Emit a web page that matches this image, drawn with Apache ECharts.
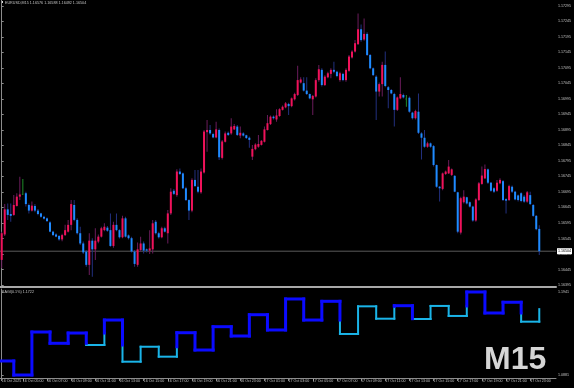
<!DOCTYPE html>
<html><head><meta charset="utf-8">
<script src="https://cdn.jsdelivr.net/npm/echarts@6/dist/echarts.min.js"></script>
<style>html,body{margin:0;padding:0;background:#000;}#c{width:574px;height:388px;}</style>
</head><body><div id="c"></div>
<script>
const symbolName = 'EURUSD,M15';
const timeframeLabel = 'M15';
// 15-minute candles, 16 Oct 03:15 .. 17 Oct 23:30 (index = bar number)
const opens = [1.16476,1.16558,1.16639,1.16624,1.16621,1.16650,1.16680,1.16689,1.16691,1.16653,
1.16635,1.16650,1.16635,1.16626,1.16615,1.16610,1.16597,1.16567,1.16558,1.16553,
1.16542,1.16556,1.16567,1.16589,1.16653,1.16605,1.16562,1.16529,1.16503,1.16460,
1.16538,1.16510,1.16535,1.16551,1.16572,1.16580,1.16572,1.16521,1.16589,1.16572,
1.16549,1.16610,1.16555,1.16546,1.16503,1.16460,1.16508,1.16529,1.16510,1.16506,
1.16510,1.16599,1.16562,1.16549,1.16578,1.16562,1.16626,1.16699,1.16685,1.16761,
1.16755,1.16707,1.16669,1.16635,1.16734,1.16712,1.16694,1.16758,1.16888,1.16895,
1.16882,1.16871,1.16895,1.16805,1.16857,1.16886,1.16884,1.16897,1.16906,1.16877,
1.16884,1.16878,1.16870,1.16809,1.16833,1.16841,1.16847,1.16857,1.16895,1.16914,
1.16938,1.16929,1.16940,1.16960,1.16968,1.16979,1.16972,1.16994,1.17008,1.17048,
1.17046,1.17022,1.17011,1.16994,1.17003,1.17056,1.17089,1.17040,1.17065,1.17076,
1.17089,1.17083,1.17056,1.17076,1.17056,1.17086,1.17129,1.17148,1.17172,1.17220,
1.17187,1.17205,1.17137,1.17094,1.17067,1.17019,1.17043,1.17105,1.17033,1.17024,
1.17011,1.16960,1.16997,1.17008,1.16997,1.16999,1.16951,1.16933,1.16954,1.16884,
1.16870,1.16841,1.16852,1.16843,1.16782,1.16712,1.16705,1.16753,1.16755,1.16750,
1.16747,1.16694,1.16564,1.16662,1.16678,1.16662,1.16648,1.16603,1.16669,1.16721,
1.16739,1.16768,1.16725,1.16707,1.16699,1.16723,1.16730,1.16672,1.16669,1.16712,
1.16696,1.16684,1.16691,1.16680,1.16664,1.16685,1.16653,1.16618,1.16576];
const highs = [1.16567,1.16656,1.16658,1.16658,1.16685,1.16691,1.16744,1.16737,1.16696,1.16658,
1.16664,1.16656,1.16640,1.16628,1.16618,1.16613,1.16601,1.16570,1.16562,1.16556,
1.16560,1.16589,1.16605,1.16669,1.16669,1.16610,1.16583,1.16535,1.16508,1.16562,
1.16546,1.16578,1.16558,1.16583,1.16594,1.16585,1.16626,1.16599,1.16626,1.16575,
1.16618,1.16615,1.16558,1.16551,1.16508,1.16532,1.16551,1.16535,1.16513,1.16572,
1.16605,1.16605,1.16567,1.16583,1.16583,1.16637,1.16707,1.16705,1.16768,1.16771,
1.16758,1.16712,1.16672,1.16739,1.16766,1.16766,1.16771,1.16895,1.16927,1.16911,
1.16886,1.16922,1.16900,1.16863,1.16890,1.16890,1.16933,1.16914,1.16911,1.16906,
1.16888,1.16880,1.16874,1.16847,1.16852,1.16879,1.16863,1.16906,1.16943,1.16942,
1.16942,1.16962,1.16965,1.16974,1.16985,1.16983,1.17000,1.17015,1.17102,1.17065,
1.17065,1.17065,1.17013,1.17008,1.17062,1.17105,1.17094,1.17072,1.17083,1.17094,
1.17115,1.17086,1.17083,1.17080,1.17094,1.17137,1.17152,1.17185,1.17271,1.17235,
1.17255,1.17210,1.17140,1.17097,1.17072,1.17048,1.17115,1.17148,1.17037,1.17027,
1.17015,1.17003,1.17065,1.17013,1.17008,1.17003,1.16954,1.16960,1.17013,1.16888,
1.16895,1.16857,1.16855,1.16847,1.16784,1.16714,1.16758,1.16764,1.16798,1.16771,
1.16750,1.16696,1.16680,1.16701,1.16680,1.16664,1.16651,1.16675,1.16727,1.16777,
1.16784,1.16771,1.16727,1.16710,1.16734,1.16739,1.16734,1.16675,1.16718,1.16716,
1.16699,1.16687,1.16694,1.16685,1.16698,1.16696,1.16656,1.16621,1.16588];
const lows = [1.16449,1.16553,1.16605,1.16599,1.16618,1.16648,1.16669,1.16685,1.16648,1.16626,
1.16632,1.16630,1.16620,1.16612,1.16606,1.16599,1.16565,1.16553,1.16549,1.16538,
1.16536,1.16553,1.16564,1.16572,1.16601,1.16558,1.16524,1.16495,1.16454,1.16427,
1.16422,1.16476,1.16530,1.16548,1.16568,1.16567,1.16518,1.16515,1.16568,1.16545,
1.16546,1.16548,1.16542,1.16500,1.16454,1.16454,1.16503,1.16497,1.16500,1.16495,
1.16497,1.16558,1.16545,1.16546,1.16564,1.16529,1.16621,1.16685,1.16680,1.16750,
1.16705,1.16666,1.16605,1.16630,1.16712,1.16691,1.16689,1.16755,1.16825,1.16880,
1.16868,1.16868,1.16798,1.16800,1.16855,1.16876,1.16880,1.16895,1.16876,1.16868,
1.16874,1.16866,1.16838,1.16798,1.16830,1.16838,1.16845,1.16855,1.16893,1.16911,
1.16929,1.16922,1.16938,1.16958,1.16965,1.16943,1.16968,1.16990,1.17005,1.17045,
1.17019,1.17008,1.16994,1.16943,1.17000,1.17051,1.17035,1.17037,1.17062,1.17062,
1.17078,1.17065,1.17051,1.17052,1.17051,1.17083,1.17126,1.17145,1.17169,1.17180,
1.17183,1.17134,1.17091,1.17069,1.16927,1.17003,1.17003,1.17033,1.16965,1.17010,
1.16906,1.16956,1.16994,1.16997,1.16970,1.16951,1.16929,1.16929,1.16882,1.16800,
1.16838,1.16838,1.16838,1.16777,1.16709,1.16664,1.16701,1.16750,1.16753,1.16747,
1.16694,1.16562,1.16558,1.16658,1.16655,1.16645,1.16599,1.16599,1.16666,1.16718,
1.16737,1.16721,1.16696,1.16692,1.16696,1.16720,1.16666,1.16626,1.16666,1.16692,
1.16668,1.16664,1.16662,1.16660,1.16660,1.16653,1.16615,1.16572,1.16492];
const closes = [1.16562,1.16639,1.16621,1.16618,1.16653,1.16680,1.16687,1.16689,1.16656,1.16635,
1.16651,1.16635,1.16624,1.16615,1.16609,1.16601,1.16567,1.16556,1.16551,1.16542,
1.16556,1.16572,1.16589,1.16656,1.16605,1.16562,1.16529,1.16500,1.16460,1.16538,
1.16510,1.16538,1.16551,1.16578,1.16583,1.16570,1.16521,1.16589,1.16572,1.16549,
1.16610,1.16551,1.16546,1.16503,1.16463,1.16510,1.16529,1.16506,1.16506,1.16513,
1.16594,1.16562,1.16549,1.16578,1.16567,1.16626,1.16696,1.16689,1.16761,1.16753,
1.16707,1.16669,1.16635,1.16734,1.16714,1.16696,1.16761,1.16890,1.16895,1.16884,
1.16871,1.16897,1.16807,1.16858,1.16884,1.16879,1.16906,1.16908,1.16879,1.16886,
1.16877,1.16869,1.16863,1.16834,1.16848,1.16850,1.16860,1.16897,1.16917,1.16938,
1.16933,1.16942,1.16962,1.16970,1.16981,1.16972,1.16997,1.17011,1.17056,1.17058,
1.17022,1.17011,1.16997,1.17005,1.17056,1.17091,1.17040,1.17067,1.17078,1.17089,
1.17083,1.17069,1.17078,1.17056,1.17089,1.17132,1.17148,1.17175,1.17220,1.17185,
1.17205,1.17137,1.17094,1.17072,1.17019,1.17043,1.17105,1.17037,1.17024,1.17013,
1.16960,1.17000,1.17011,1.17000,1.16997,1.16954,1.16933,1.16956,1.16886,1.16870,
1.16841,1.16852,1.16841,1.16782,1.16712,1.16707,1.16755,1.16761,1.16777,1.16768,
1.16696,1.16567,1.16675,1.16680,1.16658,1.16648,1.16603,1.16671,1.16723,1.16748,
1.16769,1.16725,1.16699,1.16696,1.16725,1.16734,1.16669,1.16667,1.16714,1.16696,
1.16671,1.16669,1.16666,1.16664,1.16694,1.16656,1.16618,1.16575,1.16504];
const priceTicks = ['1.17295','1.17245','1.17195','1.17145','1.17095','1.17045','1.16995','1.16945','1.16895',
'1.16845','1.16795','1.16745','1.16695','1.16645','1.16595','1.16545','1.16495','1.16445','1.16395'];
const timeTickBars = [0,7,15,23,31,39,47,55,63,71,79,87,95,103,111,119,127,135,143,151,159,167,175];
const timeTickLabels = ['16 Oct 2025','16 Oct 05:00','16 Oct 07:00','16 Oct 09:00','16 Oct 11:00','16 Oct 13:00',
'16 Oct 15:00','16 Oct 17:00','16 Oct 19:00','16 Oct 21:00','16 Oct 23:00','17 Oct 01:00','17 Oct 03:00',
'17 Oct 05:00','17 Oct 07:00','17 Oct 09:00','17 Oct 11:00','17 Oct 13:00','17 Oct 15:00','17 Oct 17:00',
'17 Oct 19:00','17 Oct 21:00','17 Oct 23:00'];
const kagiName = 'KAGI(0.1%)';
const kagiStartLevel = 1.1060;
const kagiTurnBars = [4,10,16,22,28,34,40,46,52,58,64,70,76,82,88,94,100,106,112,118,124,130,136,142,148,154,160,166,172,178];
const kagiLevels = [1.0881,1.1430,1.1286,1.1417,1.1264,1.1583,1.1051,1.1242,1.1115,1.1421,1.1200,1.1498,1.1379,1.1651,1.1456,
1.1852,1.1583,1.1822,1.1405,1.1758,1.1600,1.1766,1.1596,1.1763,1.1635,1.1941,1.1673,1.1810,1.1562,1.1722];
const kagiTicks = ['1.1941','1.0881'];

// ---- layout / style ----
const X_MIN = -0.563, X_MAX = 183.54;
const BULL = '#f0125a', BEAR = '#1f8bff', DOJI = '#1f8a2a';
const BULL_WICK = '#6b1c5c', BEAR_WICK = '#22307f';
const YANG = '#0b0bff', YIN = '#1ab4e8';
const AX = '#8c8c8c', TXT = '#c4c4c4';
const FONT = 'Liberation Sans, Arial, sans-serif';

const n = closes.length;
const last = n - 1;
const candleData = opens.map((o, i) => [i, o, highs[i], lows[i], closes[i]]);

// kagi segments [x1,y1,x2,y2,yang]
const segs = [];
let level = kagiStartLevel, yang = true, lastHigh = kagiStartLevel, lastLow = -Infinity;
segs.push([X_MIN, level, kagiTurnBars[0], level, 1]);
for (let k = 0; k < kagiTurnBars.length; k++) {
  const x = kagiTurnBars[k], nx = kagiLevels[k];
  if (nx > level) {
    if (!yang && nx > lastHigh) {
      segs.push([x, level, x, lastHigh, 0]);
      segs.push([x, lastHigh, x, nx, 1]);
      yang = true;
    } else segs.push([x, level, x, nx, yang ? 1 : 0]);
    lastHigh = nx;
  } else {
    if (yang && nx < lastLow) {
      segs.push([x, level, x, lastLow, 1]);
      segs.push([x, lastLow, x, nx, 0]);
      yang = false;
    } else segs.push([x, level, x, nx, yang ? 1 : 0]);
    lastLow = nx;
  }
  level = nx;
  if (k + 1 < kagiTurnBars.length) segs.push([x, level, kagiTurnBars[k + 1], level, yang ? 1 : 0]);
}
segs.sort((a, b) => a[4] - b[4]);

function renderCandle(params, api) {
  const i = api.value(0), o = api.value(1), h = api.value(2), l = api.value(3), c = api.value(4);
  const pO = api.coord([i, o]), pC = api.coord([i, c]), pH = api.coord([i, h]), pL = api.coord([i, l]);
  const cx = pO[0];
  const bull = c > o, doji = c === o;
  const body = doji ? DOJI : (bull ? BULL : BEAR);
  const wick = doji ? DOJI : (bull ? BULL_WICK : BEAR_WICK);
  const top = Math.min(pO[1], pC[1]), bot = Math.max(pO[1], pC[1]);
  return { type: 'group', children: [
    { type: 'rect', shape: { x: cx - 0.5, y: pH[1], width: 1, height: pL[1] - pH[1] }, style: { fill: wick } },
    { type: 'rect', shape: { x: cx - 1, y: top, width: doji ? 1 : 2, height: Math.max(bot - top, 1) }, style: { fill: body } }
  ]};
}
function renderKagi(params, api) {
  const p1 = api.coord([api.value(0), api.value(1)]), p2 = api.coord([api.value(2), api.value(3)]);
  const y = api.value(4) === 1;
  return { type: 'line', shape: { x1: p1[0], y1: p1[1], x2: p2[0], y2: p2[1] },
    style: { stroke: y ? YANG : YIN, lineWidth: y ? 3 : 2, lineCap: 'square' } };
}

const titleText = symbolName + ' ' + [opens[last], highs[last], lows[last], closes[last]].map(v => v.toFixed(5)).join(' ');
const kagiText = kagiName + ' ' + kagiLevels[kagiLevels.length - 1].toFixed(4);

const chart = echarts.init(document.getElementById('c'), null, { renderer: 'canvas' });
chart.setOption({
  backgroundColor: '#000',
  animation: false,
  grid: [
    { left: 0, top: 0, width: 556, height: 287, outerBoundsMode: 'none', containLabel: false },
    { left: 0, top: 289, width: 556, height: 89, outerBoundsMode: 'none', containLabel: false }
  ],
  xAxis: [
    { type: 'value', gridIndex: 0, min: X_MIN, max: X_MAX, axisLine: { show: true, onZero: false, lineStyle: { color: '#a8a8a8', width: 2 } },
      axisTick: { show: false }, axisLabel: { show: false }, splitLine: { show: false } },
    { type: 'value', gridIndex: 1, min: X_MIN, max: X_MAX,
      axisLine: { show: true, onZero: false, lineStyle: { color: AX, width: 1 } },
      axisTick: { show: true, length: 3, customValues: timeTickBars, lineStyle: { color: AX } },
      axisLabel: { show: true, customValues: timeTickBars, align: 'left', margin: 1, fontSize: 3.6, color: TXT, fontFamily: FONT,
        formatter: v => timeTickLabels[timeTickBars.indexOf(Math.round(v))] || '' },
      splitLine: { show: false } }
  ],
  yAxis: [
    { type: 'value', gridIndex: 0, position: 'right', min: 1.1638855, max: 1.1731435, scale: true,
      axisLine: { show: true, lineStyle: { color: AX } },
      axisTick: { show: true, length: 2, customValues: priceTicks.map(Number), lineStyle: { color: AX } },
      axisLabel: { show: true, customValues: priceTicks.map(Number), margin: 2, fontSize: 3.6, color: TXT, fontFamily: FONT,
        formatter: v => v.toFixed(5) },
      splitLine: { show: false } },
    { type: 'value', gridIndex: 1, position: 'right', min: 1.08427, max: 1.19793, scale: true,
      axisLine: { show: true, lineStyle: { color: AX } },
      axisTick: { show: true, length: 2, customValues: kagiTicks.map(Number), lineStyle: { color: AX } },
      axisLabel: { show: true, customValues: kagiTicks.map(Number), margin: 2, fontSize: 3.6, color: TXT, fontFamily: FONT,
        formatter: v => v.toFixed(4) },
      splitLine: { show: false } }
  ],
  series: [
    { type: 'line', xAxisIndex: 0, yAxisIndex: 0, data: [[X_MIN, closes[last]], [X_MAX, closes[last]]],
      symbol: 'none', silent: true, z: 1,
      lineStyle: { color: '#5a5a5a', width: 1 },
      endLabel: { show: true, distance: 1, formatter: closes[last].toFixed(5),
        backgroundColor: '#ffffff', color: '#000', fontSize: 3.6, fontFamily: FONT, padding: [1, 1, 1, 1] } },
    { type: 'custom', xAxisIndex: 0, yAxisIndex: 0, data: candleData, renderItem: renderCandle, z: 2,
      encode: { x: 0, y: [1, 2, 3, 4] }, clip: false },
    { type: 'custom', xAxisIndex: 1, yAxisIndex: 1, data: segs, renderItem: renderKagi,
      encode: { x: [0, 2], y: [1, 3] }, clip: false }
  ],
  graphic: [
    { type: 'rect', left: 1, top: 1, shape: { width: 2, height: 2 }, style: { fill: '#d8d8d8' } },
    { type: 'text', left: 5, top: 0.5, style: { text: titleText, fill: TXT, font: '3.7px ' + FONT } },
    { type: 'text', left: 2, top: 290, style: { text: kagiText, fill: TXT, font: '3.7px ' + FONT } },
    { type: 'text', left: 484, top: 344, style: { text: timeframeLabel, fill: '#d6d6d6', font: 'bold 32px ' + FONT } }
  ]
});
</script></body></html>
